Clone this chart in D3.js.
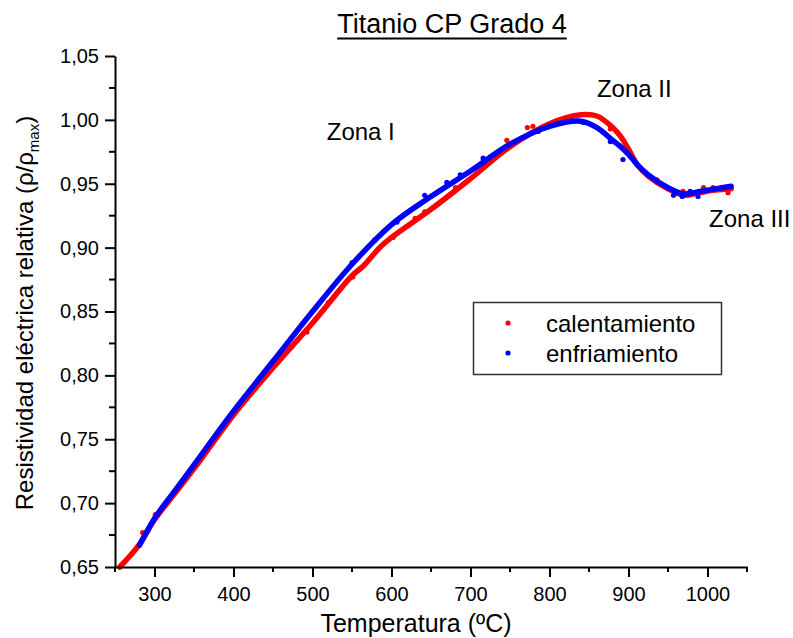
<!DOCTYPE html>
<html>
<head>
<meta charset="utf-8">
<script src="https://cdn.jsdelivr.net/npm/d3@7"></script>
<style>
  body { margin: 0; background: #fff; }
  text { font-family: "Liberation Sans", Arial, sans-serif; fill: #000; }
</style>
</head>
<body>
<div id="chart"></div>
<script>
// calentamiento (heating) - smoothed trace
const heatT = [256, 280, 300, 325, 350, 400, 450, 500, 550, 565, 585, 600, 650, 700, 750, 800, 840, 860, 880, 890, 900, 911, 925, 950, 970, 990, 1010, 1030];
const heatR = [0.650, 0.667, 0.687, 0.707, 0.727, 0.769, 0.806, 0.841, 0.878, 0.886, 0.900, 0.908, 0.930, 0.954, 0.979, 0.997, 1.004, 1.003, 0.994, 0.987, 0.977, 0.965, 0.956, 0.946, 0.941, 0.943, 0.945, 0.946];
// enfriamiento (cooling) - smoothed trace
const coolT = [281, 300, 325, 350, 400, 450, 500, 550, 600, 650, 700, 750, 800, 840, 860, 880, 890, 900, 911, 925, 950, 970, 990, 1010, 1030];
const coolR = [0.667, 0.688, 0.709, 0.730, 0.772, 0.811, 0.850, 0.887, 0.918, 0.940, 0.960, 0.981, 0.995, 0.999, 0.994, 0.984, 0.979, 0.973, 0.965, 0.957, 0.947, 0.942, 0.944, 0.946, 0.948];
// scattered measurement points off the trace
const heatDotT = [285, 301, 335, 493, 520, 551, 602, 630, 642, 681, 746, 772, 779, 877, 936, 969, 995, 1007, 1026];
const heatDotR = [0.677, 0.691, 0.717, 0.834, 0.857, 0.877, 0.908, 0.923, 0.928, 0.947, 0.984, 0.994, 0.995, 0.993, 0.953, 0.944, 0.947, 0.947, 0.943];
const coolDotT = [550, 579, 607, 642, 670, 687, 716, 786, 843, 877, 893, 957, 968, 978, 988];
const coolDotR = [0.888, 0.906, 0.920, 0.941, 0.951, 0.957, 0.970, 0.991, 0.998, 0.983, 0.969, 0.941, 0.940, 0.944, 0.940];

const xMajor = [300, 400, 500, 600, 700, 800, 900, 1000];
const xMinor = [250, 350, 450, 550, 650, 750, 850, 950, 1050];
const yMajor = [0.65, 0.70, 0.75, 0.80, 0.85, 0.90, 0.95, 1.00, 1.05];
const yMinor = [0.675, 0.725, 0.775, 0.825, 0.875, 0.925, 0.975, 1.025];

const seriesNames = ["calentamiento", "enfriamiento"];
const seriesColors = ["#ff0000", "#0000ff"];
const zoneLabels = [
  { text: "Zona I", t: 518, r: 0.984 },
  { text: "Zona II", t: 860, r: 1.018 },
  { text: "Zona III", t: 1002, r: 0.916 }
];

const W = 793, H = 638;
const margin = { top: 56, right: 46, bottom: 71, left: 115 };
const width = W - margin.left - margin.right,
      height = H - margin.top - margin.bottom;

const svg = d3.select("#chart").append("svg")
  .attr("width", W).attr("height", H);
const g = svg.append("g").attr("transform", `translate(${margin.left},${margin.top})`);

const x = d3.scaleLinear().domain([250, 1050]).range([0, width]);
const y = d3.scaleLinear().domain([0.65, 1.05]).range([height, 0]);

// title
const title = svg.append("text")
  .attr("x", 452).attr("y", 33)
  .attr("text-anchor", "middle")
  .style("font-size", "27px")
  .text("Titanio CP Grado 4");
const tb = title.node().getBBox();
svg.append("line")
  .attr("x1", tb.x).attr("x2", tb.x + tb.width)
  .attr("y1", 38.5).attr("y2", 38.5)
  .attr("stroke", "#000").attr("stroke-width", 2);

// data traces
const line = d3.line().x(d => x(d[0])).y(d => y(d[1])).curve(d3.curveCatmullRom);
const heat = heatT.map((t, i) => [t, heatR[i]]);
const cool = coolT.map((t, i) => [t, coolR[i]]);

g.append("path").datum(heat).attr("d", line)
  .attr("fill", "none").attr("stroke", seriesColors[0]).attr("stroke-width", 5.5)
  .attr("stroke-linecap", "round");
g.selectAll(".hdot").data(heatDotT).join("circle")
  .attr("cx", d => x(d)).attr("cy", (d, i) => y(heatDotR[i])).attr("r", 2.6)
  .attr("fill", seriesColors[0]);

g.append("path").datum(cool).attr("d", line)
  .attr("fill", "none").attr("stroke", seriesColors[1]).attr("stroke-width", 5.5)
  .attr("stroke-linecap", "round");
g.selectAll(".cdot").data(coolDotT).join("circle")
  .attr("cx", d => x(d)).attr("cy", (d, i) => y(coolDotR[i])).attr("r", 2.6)
  .attr("fill", seriesColors[1]);

// x axis
const xAxis = g.append("g").attr("transform", `translate(0,${height})`);
xAxis.call(d3.axisBottom(x).tickValues(xMajor).tickSize(10).tickSizeOuter(0).tickPadding(10)
  .tickFormat(d3.format("d")));
xAxis.selectAll(".minor").data(xMinor).join("line").attr("class", "minor")
  .attr("x1", d => x(d)).attr("x2", d => x(d)).attr("y1", 0).attr("y2", 5)
  .attr("stroke", "#000").attr("stroke-width", 2);

// y axis
const yAxis = g.append("g");
yAxis.call(d3.axisLeft(y).tickValues(yMajor).tickSize(10).tickSizeOuter(0).tickPadding(6)
  .tickFormat(d => d3.format(".2f")(d).replace(".", ",")));
yAxis.selectAll(".minor").data(yMinor).join("line").attr("class", "minor")
  .attr("x1", 0).attr("x2", -6).attr("y1", d => y(d)).attr("y2", d => y(d))
  .attr("stroke", "#000").attr("stroke-width", 2);

[xAxis, yAxis].forEach(a => {
  a.select(".domain").attr("stroke-width", 2);
  a.selectAll(".tick line").attr("stroke-width", 2);
  a.selectAll(".tick text").style("font-size", "20px")
    .style("font-family", "'Liberation Sans', Arial, sans-serif");
});

// axis titles
svg.append("text")
  .attr("x", 416).attr("y", 632)
  .attr("text-anchor", "middle")
  .style("font-size", "25px")
  .text("Temperatura (ºC)");

const yl = svg.append("text")
  .attr("transform", "translate(33,313) rotate(-90)")
  .attr("text-anchor", "middle")
  .style("font-size", "24px");
yl.append("tspan").text("Resistividad eléctrica relativa (ρ/ρ");
yl.append("tspan").attr("dy", 6).style("font-size", "15px").text("max");
yl.append("tspan").attr("dy", -6).text(")");

// zone labels
g.selectAll(".zone").data(zoneLabels).join("text")
  .attr("x", d => x(d.t)).attr("y", d => y(d.r))
  .style("font-size", "24px")
  .text(d => d.text);

// legend
const leg = svg.append("g");
leg.append("rect")
  .attr("x", 473.5).attr("y", 302.5).attr("width", 248).attr("height", 72)
  .attr("fill", "#fff").attr("stroke", "#333").attr("stroke-width", 1.5);
seriesNames.forEach((name, i) => {
  leg.append("circle").attr("cx", 508).attr("cy", 323 + i * 30).attr("r", 2.6)
    .attr("fill", seriesColors[i]);
  leg.append("text").attr("x", 546).attr("y", 332 + i * 30)
    .style("font-size", "24px").text(name);
});
</script>
</body>
</html>
